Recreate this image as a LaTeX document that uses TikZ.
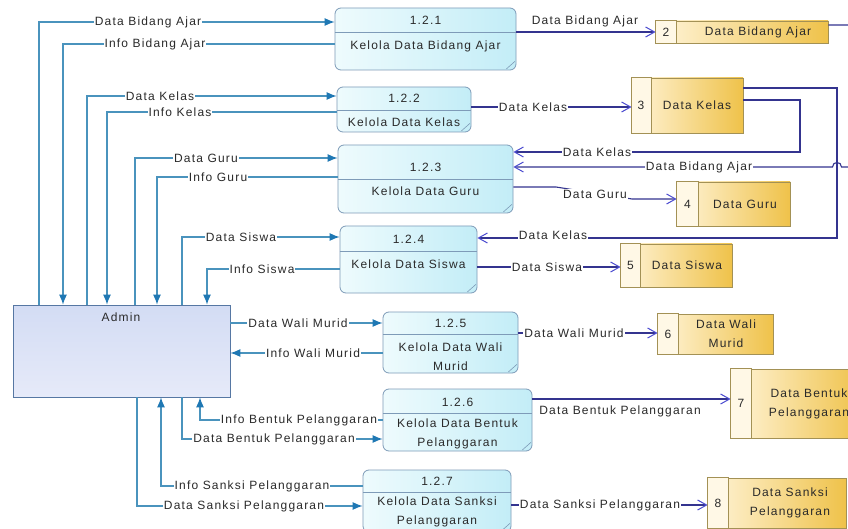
\documentclass[tikz,border=0pt]{standalone}
\usepackage{fontspec}
\setmainfont{Liberation Sans}[LetterSpace=10]
\usetikzlibrary{arrows.meta,calc}
\definecolor{tealC}{HTML}{4A93BD}
\definecolor{tealA}{HTML}{1F78B4}
\definecolor{navyC}{HTML}{34348F}
\definecolor{navyA}{HTML}{4B4BD0}
\definecolor{procLine}{HTML}{7E9BB8}
\definecolor{procL}{HTML}{EEFBFD}
\definecolor{procR}{HTML}{C3EDF7}
\definecolor{storeLine}{HTML}{A39155}
\definecolor{storeNum}{HTML}{FFF8E6}
\definecolor{storeL}{HTML}{FFF4D8}
\definecolor{storeR}{HTML}{EFC24A}
\definecolor{adminLine}{HTML}{5677A3}
\definecolor{adminTop}{HTML}{D3DCF4}
\definecolor{adminBot}{HTML}{E6EAF9}
\definecolor{txt}{HTML}{2A2A2A}
\begin{document}
\begin{tikzpicture}[x=1pt,y=-1pt,
  every node/.style={text=txt, font=\fontsize{12}{19}\selectfont},
  proc/.style={draw=procLine, line width=0.8pt, rounded corners=6pt, left color=procL, right color=procR, inner sep=0pt},
  pline/.style={draw=procLine, line width=0.8pt},
  store/.style={draw=storeLine, line width=0.8pt, left color=storeL, right color=storeR, inner sep=0pt},
  snum/.style={fill=storeNum, draw=storeLine, line width=0.8pt},
  admin/.style={draw=adminLine, line width=0.8pt, top color=adminTop, bottom color=adminBot, inner sep=0pt},
  txtnode/.style={inner sep=0pt, align=center},
  lbl/.style={fill=white, inner sep=1pt},
  tflow/.style={draw=tealC, line width=1.1pt, -{Latex[length=10pt,width=8pt,color=tealA]}},
  nflow/.style={draw=navyC, line width=1.1pt, -{Straight Barb[length=9pt,width=10pt,line width=1pt,color=navyA]}}
]
\useasboundingbox (0,0) rectangle (848,529);
\fill[white] (0,0) rectangle (848,529);
\clip (0,0) rectangle (848,529);

% ---------- Admin ----------
\node[admin, minimum width=217pt, minimum height=92pt] (admin) at (121.5,351) {};
\node[txtnode] (admint) at (121,317) {Admin};

% ---------- Processes ----------
\node[proc, minimum width=181pt, minimum height=62pt] (p1) at (425.5,39) {};
\node[proc, minimum width=134pt, minimum height=45pt] (p2) at (404,109.5) {};
\node[proc, minimum width=175pt, minimum height=68pt] (p3) at (425.5,179) {};
\node[proc, minimum width=137pt, minimum height=67pt] (p4) at (408.5,259.5) {};
\node[proc, minimum width=135pt, minimum height=61pt] (p5) at (450.5,342.5) {};
\node[proc, minimum width=149pt, minimum height=62pt] (p6) at (457.5,420) {};
\node[proc, minimum width=148pt, minimum height=62pt] (p7) at (437,501) {};

\foreach \p/\y in {p1/32,p2/110,p3/179,p4/251,p5/334,p6/413,p7/492}{
  \draw[pline] (\p.west |- 0,\y) -- (\p.east |- 0,\y);
  \draw[pline, line width=0.6pt] ($(\p.south east)+(-1.5,-9)$) -- ($(\p.south east)+(-10,-1.5)$);
}

\node[txtnode] (p1n) at (425.5,20) {1.2.1};
\node[txtnode] (p1t) at (425.5,46) {Kelola Data Bidang Ajar};
\node[txtnode] (p2n) at (404,98) {1.2.2};
\node[txtnode] (p2t) at (404,122) {Kelola Data Kelas};
\node[txtnode] (p3n) at (425.5,167) {1.2.3};
\node[txtnode] (p3t) at (425.5,191) {Kelola Data Guru};
\node[txtnode] (p4n) at (408.5,239) {1.2.4};
\node[txtnode] (p4t) at (408.5,264) {Kelola Data Siswa};
\node[txtnode] (p5n) at (450.5,323) {1.2.5};
\node[txtnode] (p5t) at (450.5,356.5) {Kelola Data Wali\\Murid};
\node[txtnode] (p6n) at (457.5,402) {1.2.6};
\node[txtnode] (p6t) at (457.5,434) {Kelola Data Bentuk\\Pelanggaran};
\node[txtnode] (p7n) at (437,481) {1.2.7};
\node[txtnode] (p7t) at (437,511.5) {Kelola Data Sanksi\\Pelanggaran};

% ---------- Data stores ----------
\node[store, minimum width=172pt, minimum height=22pt] (s2) at (742,32) {};
\path[snum] (s2.north west) rectangle (s2.south -| 676,0);
\node[txtnode] (s2n) at (666,32) {2};
\node[txtnode] (s2t) at (758,32) {Data Bidang Ajar};

\node[store, minimum width=111pt, minimum height=55pt] (s3) at (687.5,105.5) {};
\path[snum] (s3.north west) rectangle (s3.south -| 651,0);
\node[txtnode] (s3n) at (641,105.5) {3};
\node[txtnode] (s3t) at (697,105.5) {Data Kelas};

\node[store, minimum width=113pt, minimum height=44pt] (s4) at (733.5,204) {};
\path[snum] (s4.north west) rectangle (s4.south -| 698,0);
\node[txtnode] (s4n) at (687.5,204) {4};
\node[txtnode] (s4t) at (745,204) {Data Guru};

\node[store, minimum width=111pt, minimum height=43pt] (s5) at (676.5,265.5) {};
\path[snum] (s5.north west) rectangle (s5.south -| 640,0);
\node[txtnode] (s5n) at (630.5,265.5) {5};
\node[txtnode] (s5t) at (687,265.5) {Data Siswa};

\node[store, minimum width=115pt, minimum height=40pt] (s6) at (715.5,334) {};
\path[snum] (s6.north west) rectangle (s6.south -| 678,0);
\node[txtnode] (s6n) at (668,334) {6};
\node[txtnode] (s6t) at (726,334) {Data Wali\\Murid};

\node[store, minimum width=131pt, minimum height=69pt] (s7) at (796.5,403.5) {};
\path[snum] (s7.north west) rectangle (s7.south -| 751,0);
\node[txtnode] (s7n) at (741,403.5) {7};
\node[txtnode] (s7t) at (809,403.5) {Data Bentuk\\Pelanggaran};

\node[store, minimum width=138pt, minimum height=50pt] (s8) at (777,503) {};
\path[snum] (s8.north west) rectangle (s8.south -| 728,0);
\node[txtnode] (s8n) at (718,503) {8};
\node[txtnode] (s8t) at (790,503) {Data Sanksi\\Pelanggaran};

% ---------- Admin <-> processes (teal) ----------
\draw[tflow] (admin.north -| 39,0) |- (p1.west |- 0,22);
\draw[tflow] (p1.west |- 0,44) -| (admin.north -| 63,0);
\draw[tflow] (admin.north -| 87,0) |- (p2.west |- 0,96);
\draw[tflow] (p2.west |- 0,112) -| (admin.north -| 107,0);
\draw[tflow] (admin.north -| 135,0) |- (p3.west |- 0,158);
\draw[tflow] (p3.west |- 0,177) -| (admin.north -| 157,0);
\draw[tflow] (admin.north -| 182,0) |- (p4.west |- 0,237);
\draw[tflow] (p4.west |- 0,269) -| (admin.north -| 207,0);
\draw[tflow] (admin.east |- 0,323) -- (p5.west |- 0,323);
\draw[tflow] (p5.west |- 0,353) -- (admin.east |- 0,353);
\draw[tflow] (p6.west |- 0,420) -| (admin.south -| 200,0);
\draw[tflow] (admin.south -| 182,0) |- (p6.west |- 0,439);
\draw[tflow] (p7.west |- 0,486) -| (admin.south -| 161,0);
\draw[tflow] (admin.south -| 137,0) |- (p7.west |- 0,506);

\node[lbl] (l1) at (148,22) {Data Bidang Ajar};
\node[lbl] (l2) at (155,44) {Info Bidang Ajar};
\node[lbl] (l3) at (160,96) {Data Kelas};
\node[lbl] (l4) at (180,112) {Info Kelas};
\node[lbl] (l5) at (206,158) {Data Guru};
\node[lbl] (l6) at (218,177) {Info Guru};
\node[lbl] (l7) at (241,237) {Data Siswa};
\node[lbl] (l8) at (262,269) {Info Siswa};
\node[lbl] (l9) at (298,323) {Data Wali Murid};
\node[lbl] (l10) at (313,353) {Info Wali Murid};
\node[lbl] (l11) at (299,420) {Info Bentuk Pelanggaran};
\node[lbl] (l12) at (274,439) {Data Bentuk Pelanggaran};
\node[lbl] (l13) at (252,486) {Info Sanksi Pelanggaran};
\node[lbl] (l14) at (244,506) {Data Sanksi Pelanggaran};

% ---------- Processes <-> stores (navy) ----------
\draw[nflow] (p1.east |- 0,32) -- (s2.west |- 0,32);
\draw[nflow] (p2.east |- 0,107) -- (s3.west |- 0,107);
\draw[nflow] (s3.east |- 0,100) -- (800,100) -- (800,152) -- (p3.east |- 0,152);
\draw[nflow] (s3.east |- 0,88) -- (837,88) -- (837,238) -- (p4.east |- 0,238);
\draw[nflow] (s2.east |- 0,25) -- (856,25) -- (856,167) -- (841.5,167)
   .. controls (841.5,161) and (832.5,161) .. (832.5,167) -- (p3.east |- 0,167);
\draw[nflow] (p3.east |- 0,187) -- (556,187) -- (632,199) -- (s4.west |- 0,199);
\draw[nflow] (p4.east |- 0,267) -- (s5.west |- 0,267);
\draw[nflow] (p5.east |- 0,333) -- (s6.west |- 0,333);
\draw[nflow] (p6.east |- 0,399) -- (s7.west |- 0,399);
\draw[nflow] (p7.east |- 0,505) -- (s8.west |- 0,505);

\node[inner sep=1pt] (r1) at (585,21) {Data Bidang Ajar};
\node[lbl] (r2) at (533,107) {Data Kelas};
\node[lbl] (r3) at (597,152) {Data Kelas};
\node[lbl] (r4) at (553,235) {Data Kelas};
\node[lbl] (r5) at (699,167) {Data Bidang Ajar};
\node[lbl] (r6) at (595,194) {Data Guru};
\node[lbl] (r7) at (547,267) {Data Siswa};
\node[lbl] (r8) at (574,333) {Data Wali Murid};
\node[inner sep=1pt] (r9) at (620,411) {Data Bentuk Pelanggaran};
\node[lbl] (r10) at (600,505) {Data Sanksi Pelanggaran};
\end{tikzpicture}
\end{document}
